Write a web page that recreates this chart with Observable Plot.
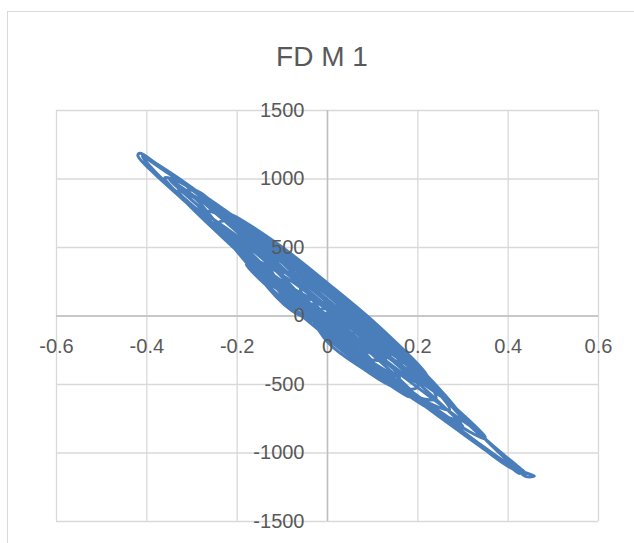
<!DOCTYPE html>
<html><head><meta charset="utf-8">
<script src="https://cdn.jsdelivr.net/npm/d3@7"></script>
<script src="https://cdn.jsdelivr.net/npm/@observablehq/plot@0.6"></script>
<style>
html,body{margin:0;padding:0;background:#fff;}
#wrap{position:relative;width:634px;height:543px;overflow:hidden;font-family:"Liberation Sans",Arial,sans-serif;}
#frame{position:absolute;left:7px;top:11px;width:700px;height:600px;border-left:1.5px solid #d9d9d9;border-top:1.5px solid #d9d9d9;}
#title{position:absolute;left:0;width:644px;top:43px;line-height:28px;text-align:center;font-size:28px;color:#595959;}
#chart{position:absolute;left:0;top:0;}
</style></head><body>
<div id="wrap"><div id="frame"></div><div id="title">FD M 1</div><div id="chart"></div></div>
<script>
const xTicks = [-0.6, -0.4, -0.2, 0, 0.2, 0.4, 0.6];
const xTickLabels = ["-0.6", "-0.4", "-0.2", "0", "0.2", "0.4", "0.6"];
const yTicks = [-1500, -1000, -500, 0, 500, 1000, 1500];
const yTickLabels = ["-1500", "-1000", "-500", "0", "500", "1000", "1500"];

const dispX = [
  0, 0.045, 0.06, 0.045, 0, -0.045, -0.06, -0.045,
  0, 0.025, 0.05, 0.025, 0, -0.025, -0.05, -0.025,
  0, 0.04, 0.075, 0.10, 0.075, 0.04, 0, -0.04, -0.075, -0.10, -0.075, -0.04,
  0, 0.04, 0.08, 0.04, 0, -0.04, -0.08, -0.04,
  0, 0.052, 0.0975, 0.13, 0.0975, 0.052, 0, -0.052, -0.0975, -0.13, -0.0975, -0.052,
  0, 0.05, 0.1, 0.05, 0, -0.05, -0.1, -0.05,
  0, 0.06, 0.12, 0.06, 0, -0.06, -0.12, -0.06,
  0, 0.068, 0.128, 0.17, 0.128, 0.068, 0, -0.068, -0.128, -0.17, -0.128, -0.068,
  0, 0.075, 0.15, 0.075, 0, -0.075, -0.15, -0.075,
  0, 0.07, 0.14, 0.07, 0, -0.07, -0.14, -0.07,
  0, 0.08, 0.15, 0.20, 0.15, 0.08, 0, -0.08, -0.15, -0.20, -0.15, -0.08,
  0, 0.08, 0.16, 0.08, 0, -0.08, -0.16, -0.08,
  0, 0.1, 0.2, 0.1, 0, -0.1, -0.2, -0.1,
  0, 0.096, 0.18, 0.24, 0.18, 0.096, 0, -0.096, -0.18, -0.24, -0.18, -0.096,
  0, 0.09, 0.18, 0.09, 0, -0.09, -0.18, -0.09,
  0, 0.1, 0.2, 0.1, 0, -0.1, -0.2, -0.1,
  0, 0.108, 0.2, 0.27, 0.2, 0.108, 0, -0.108, -0.2, -0.27, -0.2, -0.108,
  0, 0.11, 0.22, 0.11, 0, -0.11, -0.22, -0.11,
  0, 0.125, 0.25, 0.125, 0, -0.125, -0.25, -0.125,
  0, 0.12, 0.225, 0.30, 0.225, 0.12, 0, -0.124, -0.23, -0.265, -0.29, -0.318, -0.29, -0.23, -0.124,
  0, 0.14, 0.28, 0.14, 0, -0.14, -0.28, -0.14,
  0, 0.15, 0.3, 0.15, 0, -0.15, -0.3, -0.15,
  0, 0.14, 0.26, 0.35, 0.26, 0.14, 0, -0.132, -0.25, -0.33, -0.25, -0.132,
  0, 0.175, 0.35, 0.175, 0, -0.175, -0.35, -0.175,
  0, 0.17, 0.315, 0.38, 0.425, 0.38, 0.315, 0.17, 0, -0.144, -0.27, -0.325, -0.36, -0.325, -0.27, -0.144,
  0, 0.18, 0.34, 0.41, 0.445, 0.458, 0.44, 0.41, 0.34, 0.18, 0, -0.17, -0.32, -0.38, -0.415, -0.42, -0.39, -0.32, -0.17,
  0, 0.17, 0.33, 0.40, 0.44, 0.40, 0.33, 0.17, 0, -0.16, -0.31, -0.37, -0.41, -0.37, -0.31, -0.16,
  0, 0.08, 0.12, 0.08, 0
];
const forceY = [
  -40, -134, -121, -28, 120, 214, 201, 108,
  -40, -102, -134, -32, 40, 102, 134, 32,
  -70, -168, -234, -228, -88, 34, 150, 248, 314, 308, 168, 46,
  50, -50, -114, 36, 150, 250, 314, 164,
  -110, -237, -320, -308, -122, 39, 190, 317, 400, 388, 202, 41,
  -90, -220, -328, -168, -30, 100, 208, 48,
  -20, -173, -282, -69, 100, 253, 362, 149,
  -130, -298, -415, -416, -191, 14, 210, 378, 495, 496, 271, 66,
  100, -96, -262, -26, 180, 376, 542, 306,
  -20, -196, -305, -40, 160, 336, 445, 180,
  -190, -387, -521, -516, -243, -1, 230, 427, 561, 556, 283, 41,
  -90, -295, -449, -173, 50, 255, 409, 133,
  10, -254, -496, -202, 70, 334, 576, 282,
  -160, -401, -574, -603, -310, -33, 240, 481, 654, 683, 390, 113,
  -155, -390, -592, -312, -65, 170, 372, 92,
  -110, -372, -596, -284, -10, 252, 476, 164,
  -110, -387, -595, -684, -397, -111, 190, 467, 675, 764, 477, 191,
  80, -205, -430, -65, 240, 525, 750, 385,
  60, -267, -550, -163, 180, 507, 790, 403,
  -130, -438, -675, -764, -451, -126, 210, 528, 780, 860, 915, 912, 850, 620, 300,
  50, -318, -650, -232, 150, 518, 850, 432,
  -70, -463, -804, -341, 70, 463, 804, 341,
  -80, -445, -736, -898, -610, -225, 160, 504, 789, 924, 631, 284,
  0, -461, -878, -357, 120, 581, 998, 477,
  -100, -545, -896, -1040, -1150, -990, -800, -287, 180, 555, 856, 973, 1010, 870, 690, 310,
  -90, -562, -957, -1116, -1150, -1168, -1172, -1090, -870, -322, 170, 616, 984, 1115, 1188, 1172, 1060, 850, 420,
  -70, -518, -917, -1080, -1152, -1040, -840, -314, 150, 571, 944, 1080, 1165, 1014, 838, 407,
  -60, -250, -290, -160, 20
];

const pts = dispX.map((x, i) => ({x, y: forceY[i]}));

const chart = Plot.plot({
  width: 634, height: 543,
  marginLeft: 56, marginRight: 36, marginTop: 110, marginBottom: 22,
  x: {domain: [-0.6, 0.6], axis: null},
  y: {domain: [-1500, 1500], axis: null},
  style: {background: "transparent", fontFamily: "'Liberation Sans', Arial, sans-serif"},
  marks: [
    Plot.ruleX(xTicks, {stroke: "#d9d9d9", strokeWidth: 1.3}),
    Plot.ruleY(yTicks, {stroke: "#d9d9d9", strokeWidth: 1.3}),
    Plot.ruleX([0], {stroke: "#bfbfbf", strokeWidth: 1.5}),
    Plot.ruleY([0], {stroke: "#bfbfbf", strokeWidth: 1.5}),
    Plot.line(pts, {x: "x", y: "y", stroke: "#4a7ebb", strokeWidth: 3, curve: "catmull-rom"}),
    Plot.text(yTicks, {x: 0, y: d => d, text: (d, i) => yTickLabels[i], textAnchor: "end", dx: -23, fill: "#595959", fontSize: 20}),
    Plot.text(xTicks, {x: d => d, y: 0, text: (d, i) => xTickLabels[i], dy: 31, fill: "#595959", fontSize: 20})
  ]
});
document.getElementById("chart").appendChild(chart);
</script>
</body></html>
